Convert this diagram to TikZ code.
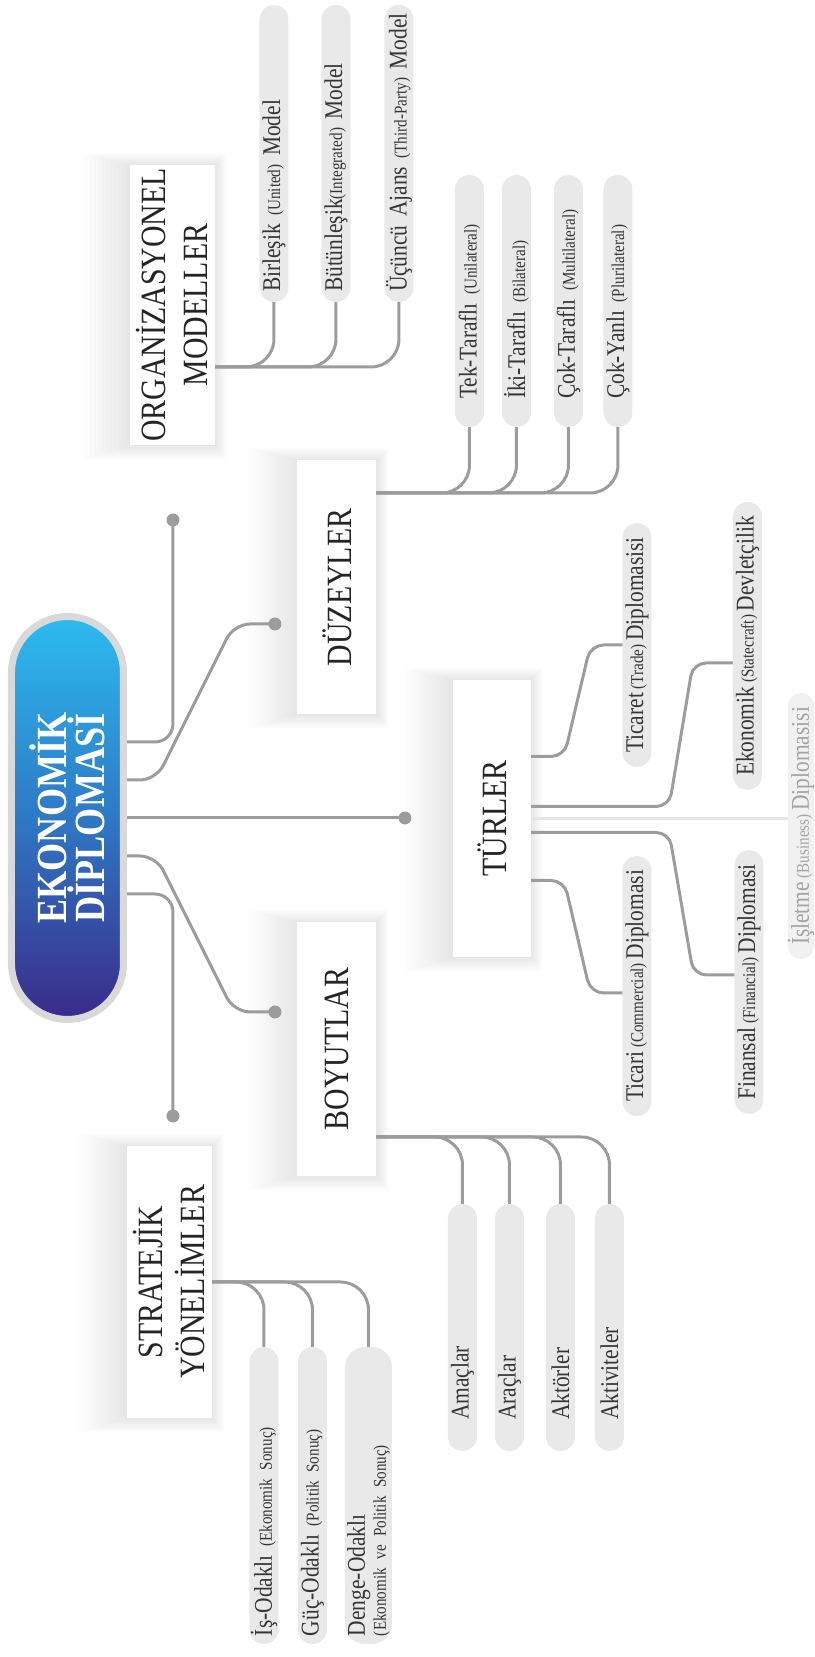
\documentclass[tikz,border=0pt]{standalone}
\usepackage{fontspec}
\setmainfont{Liberation Serif}[FakeStretch=0.84, WordSpace=0.7]
\usetikzlibrary{calc,backgrounds}

\definecolor{linkgray}{HTML}{9C9C9C}
\definecolor{pillgray}{HTML}{E9E9E9}
\definecolor{leaftext}{HTML}{353535}
\definecolor{headtext}{HTML}{242424}
\definecolor{hubrim}{HTML}{D9D9D9}
\definecolor{hubdark}{HTML}{3A2A8A}
\definecolor{hubmid}{HTML}{2F78C4}
\definecolor{hublight}{HTML}{2CBCEF}
\definecolor{fadeline}{HTML}{E6E6E6}
\definecolor{fadepill}{HTML}{F1F1F1}
\definecolor{fadetext}{HTML}{A3A3A3}

% small english gloss inside a leaf
\newcommand{\engl}[1]{{\fontsize{18}{20}\selectfont #1}}
% soft halo behind a heading box
\newcommand{\boxglow}[1]{%
  \foreach \g in {1,...,12}
    \fill[black, opacity=0.006] ($(#1.south west)+(-\g*1.2,-\g*1.0)$) rectangle ($(#1.north east)+(\g*1.0,\g*4)$);}

\begin{document}
\begin{tikzpicture}[x=1pt, y=1pt, rotate=90, transform shape,
  link/.style={draw=linkgray, line width=3, line cap=round},
  bracket/.style={link, rounded corners=28},
  joint/.style={circle, fill=linkgray, inner sep=0, minimum size=13},
  headbox/.style={fill=white, text=headtext, align=center, inner sep=0, font=\fontsize{35.5}{42}\selectfont},
  leaf/.style={fill=pillgray, text=leaftext, rounded corners=14.5, minimum height=29, inner xsep=14, inner ysep=0, outer sep=0, align=left, font=\fontsize{25.5}{28}\selectfont}]

\useasboundingbox (0,0) rectangle (1657,814);
\clip (0,0) rectangle (1657,814);

% central topic

\node[draw=hubrim, line width=7, top color=hublight, bottom color=hubdark, middle color=hubmid,
      rounded corners=56, minimum width=403, minimum height=112, text=white, align=center,
      font=\bfseries\fontsize{43}{37}\selectfont] (hub) at (839,746.5) {EKONOMİK\\DİPLOMASİ};

% end points of the main branches
\node[joint] (orgdot) at (1137,641) {};
\node[joint] (duzdot) at (1033,539) {};
\node[joint] (turdot) at (839,409) {};
\node[joint] (boydot) at (645,539) {};
\node[joint] (strdot) at (541,641) {};

% headings
\node[headbox, minimum width=280, minimum height=85] (orgbox) at (1352,641.5) {ORGANİZASYONEL\\MODELLER};
\node[headbox, minimum width=254, minimum height=79] (duzbox) at (1069.5,477) {DÜZEYLER};
\node[headbox, minimum width=277, minimum height=78] (turbox) at (838.5,322) {TÜRLER};
\node[headbox, minimum width=254, minimum height=79] (boybox) at (608,477) {BOYUTLAR};
\node[headbox, minimum width=272, minimum height=85] (strbox) at (375,644.5) {STRATEJİK\\YÖNELİMLER};

% organizational models
\node[leaf, inner xsep=10, text width=277, anchor=west] (birlesik) at (1355,540) {Birleşik \engl{(United)} Model};
\node[leaf, inner xsep=10, text width=277, anchor=west] (butunlesik) at (1355,478) {Bütünleşik\engl{(Integrated)} Model};
\node[leaf, inner xsep=10, text width=277, anchor=west] (ucuncu) at (1355,415) {\mbox{Üçüncü Ajans \engl{(Third-Party)} Model}};

% levels
\node[leaf, inner xsep=28, text width=196, anchor=west] (tektarafli) at (1230,344.5) {Tek-Taraflı \engl{(Unilateral)}};
\node[leaf, inner xsep=28, text width=196, anchor=west] (ikitarafli) at (1230,297.5) {İki-Taraflı \engl{(Bilateral)}};
\node[leaf, inner xsep=28, text width=196, anchor=west] (coktarafli) at (1230,245.5) {Çok-Taraflı \engl{(Multilateral)}};
\node[leaf, inner xsep=28, text width=196, anchor=west] (cokyanli) at (1230,196) {Çok-Yanlı \engl{(Plurilateral)}};

% types
\node[leaf] (ticaret) at (1012,177) {Ticaret \engl{(Trade)} Diplomasisi};
\node[leaf] (ekonomik) at (1011,66.5) {Ekonomik \engl{(Statecraft)} Devletçilik};
\node[leaf, fill=fadepill, text=fadetext, minimum height=25, rounded corners=12.5] (isletme) at (831,13) {İşletme \engl{(Business)} Diplomasisi};
\node[leaf] (finansal) at (675,65) {Finansal \engl{(Financial)} Diplomasi};
\node[leaf] (ticari) at (671,177) {Ticari \engl{(Commercial)} Diplomasi};

% dimensions
\node[leaf, inner xsep=31, text width=185, anchor=west] (amaclar) at (206,351.5) {Amaçlar};
\node[leaf, inner xsep=31, text width=185, anchor=west] (araclar) at (206,304.5) {Araçlar};
\node[leaf, inner xsep=31, text width=185, anchor=west] (aktorler) at (206,253.5) {Aktörler};
\node[leaf, inner xsep=31, text width=185, anchor=west] (aktiviteler) at (206,204.5) {Aktiviteler};

% strategic orientations
\node[leaf, inner xsep=8, text width=281, anchor=west] (isodakli) at (13,550) {İş-Odaklı \engl{(Ekonomik Sonuç)}};
\node[leaf, inner xsep=8, text width=281, anchor=west] (gucodakli) at (13,501.5) {Güç-Odaklı \engl{(Politik Sonuç)}};
\node[leaf, inner xsep=8, text width=281, anchor=west, minimum height=47, rounded corners=20] (dengeodakli) at (13,445.5) {Denge-Odaklı\\[-7pt]\engl{(Ekonomik ve Politik Sonuç)}};

\begin{scope}[on background layer]

\foreach \b in {orgbox, duzbox, turbox, boybox, strbox} {\boxglow{\b}}

% hub -> headings
\draw[link, rounded corners=18] ($(hub.south)+(76,0)$) |- (orgdot.center);
\draw[link, rounded corners=16] ($(hub.south)+(38,0)$) -- ++(0,-29) -- ($(duzdot.center)+(0,41)$) -- (duzdot.center);
\draw[link] (hub.south) -- (turdot.center);
\draw[link, rounded corners=16] ($(hub.south)+(-38,0)$) -- ++(0,-29) -- ($(boydot.center)+(0,41)$) -- (boydot.center);
\draw[link, rounded corners=18] ($(hub.south)+(-76,0)$) |- (strdot.center);

% headings -> leaves
\foreach \leaf in {birlesik, butunlesik, ucuncu}
  \draw[bracket] ($(orgbox.south)+(-62,0)$) |- (\leaf.west);
\foreach \leaf in {tektarafli, ikitarafli, coktarafli, cokyanli}
  \draw[bracket] ($(duzbox.south)+(94.5,0)$) |- (\leaf.west);
\foreach \leaf in {amaclar, araclar, aktorler, aktiviteler}
  \draw[bracket] ($(boybox.south)+(-88,0)$) |- (\leaf.east);
\foreach \leaf in {isodakli, gucodakli, dengeodakli}
  \draw[bracket] (strbox.south) |- (\leaf.east);

\draw[link, rounded corners=13] ($(turbox.south)+(62,0)$) -- ++(0,-33) -- ($(ticaret.north)+(0,32)$) -- (ticaret.north);
\draw[link, rounded corners=13] ($(turbox.south)+(12,0)$) -- ++(0,-138) -- ($(ekonomik.north)+(-17,40)$) -- ($(ekonomik.north)+(-17,0)$);
\draw[link, draw=fadeline] (turbox.south) -- (turbox.south |- isletme.north);
\draw[link, rounded corners=13] ($(turbox.south)+(-14,0)$) -- ++(0,-138) -- ($(finansal.north)+(7,41)$) -- ($(finansal.north)+(7,0)$);
\draw[link, rounded corners=13] ($(turbox.south)+(-62,0)$) -- ++(0,-33) -- ($(ticari.north)+(-7,32)$) -- ($(ticari.north)+(-7,0)$);

\end{scope}

\end{tikzpicture}
\end{document}
